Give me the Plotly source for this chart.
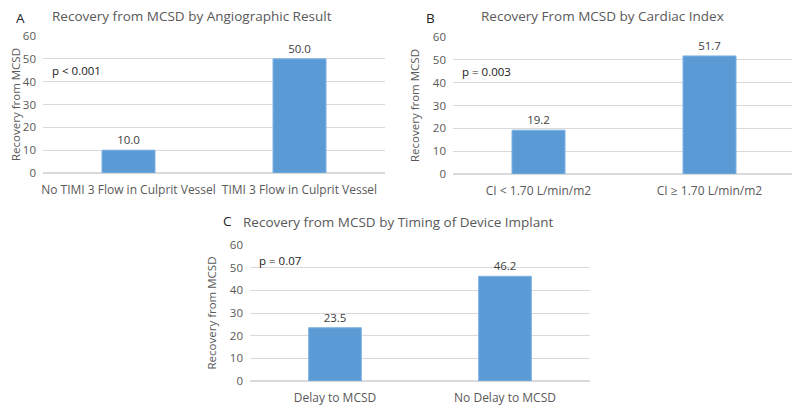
import plotly.graph_objects as go

# panel A
cats_a = ["No TIMI 3 Flow in Culprit Vessel", "TIMI 3 Flow in Culprit Vessel"]
vals_a = [10.0, 50.0]
# panel B
cats_b = ["CI < 1.70 L/min/m2", "CI ≥ 1.70 L/min/m2"]
vals_b = [19.2, 51.7]
# panel C
cats_c = ["Delay to MCSD", "No Delay to MCSD"]
vals_c = [23.5, 46.2]

titles = ["Recovery from MCSD by Angiographic Result",
          "Recovery From MCSD by Cardiac Index",
          "Recovery from MCSD by Timing of Device Implant"]
letters = ["A", "B", "C"]
pvals = ["p < 0.001", "p = 0.003", "p = 0.07"]
y_ticks = [0, 10, 20, 30, 40, 50, 60]

FONT = "Open Sans"
TXT = "#595959"
BAR = "#5b9bd5"
GRID = "#d9d9d9"

W, H = 800, 408
OFF = 8  # page body margin
def px(x):
    return (x - OFF) / W
def py(y):
    return 1 - (y - OFF) / H

# plot boxes in screen pixels: (left, right, top(60), bottom(0))
boxes = [(43, 385, 36, 173), (453, 795, 37, 174), (250, 590, 245, 381)]
title_y = [16, 16, 222]
letter_top = [8, 8, 211]

fig = go.Figure()
data = [(cats_a, vals_a), (cats_b, vals_b), (cats_c, vals_c)]
for i, (cats, vals) in enumerate(data):
    n = "" if i == 0 else str(i + 1)
    fig.add_trace(go.Bar(
        x=cats, y=vals, xaxis="x" + n, yaxis="y" + n,
        marker=dict(color=BAR, line=dict(color="#7fb2e3", width=1)),
        width=0.31,
        text=[f"{v:.1f}" for v in vals], textposition="outside",
        textfont=dict(family=FONT, size=11.5, color="#404040"),
        cliponaxis=False, showlegend=False, hoverinfo="x+y",
    ))

layout = dict(
    width=W, height=H, autosize=False,
    margin=dict(l=0, r=0, t=0, b=0),
    paper_bgcolor="white", plot_bgcolor="white",
    font=dict(family=FONT, color=TXT),
)
ann = []
for i, (l, r, t, b) in enumerate(boxes):
    n = "" if i == 0 else str(i + 1)
    layout["xaxis" + n] = dict(
        domain=[px(l), px(r)], anchor="y" + n, automargin=False,
        showgrid=False, zeroline=False, showline=False, ticks="",
        tickfont=dict(size=12, color=TXT), ticklabelstandoff=8, fixedrange=True,
    )
    layout["yaxis" + n] = dict(
        domain=[py(b), py(t)], anchor="x" + n, range=[0, 60], automargin=False,
        tickvals=y_ticks, showgrid=True, gridcolor=GRID, gridwidth=1,
        zeroline=True, zerolinecolor=GRID, showline=False, ticks="",
        tickfont=dict(size=11.5, color=TXT), ticklabelstandoff=6,
        title=dict(text="Recovery from MCSD", font=dict(size=11.5, color=TXT), standoff=10),
        fixedrange=True,
    )
    cx = (l + r) / 2 - 22
    ann.append(dict(text=titles[i], xref="paper", yref="paper",
                    x=px(cx), y=py(title_y[i]), xanchor="center", yanchor="middle",
                    showarrow=False, borderpad=0, font=dict(size=13.5, color=TXT)))
    ann.append(dict(text=letters[i], xref="paper", yref="paper",
                    x=px(l - 28), y=py(letter_top[i]), xanchor="left", yanchor="top",
                    showarrow=False, borderpad=0, font=dict(size=13.5, color="#222222")))
    ann.append(dict(text=pvals[i], xref="paper", yref="paper",
                    x=px(l + 7), y=py(t + 34 - (i == 2) * 19), xanchor="left", yanchor="middle",
                    showarrow=False, font=dict(size=11.5, color="#1a1a1a")))
layout["annotations"] = ann
fig.update_layout(**layout)

fig.write_html("out.html")
